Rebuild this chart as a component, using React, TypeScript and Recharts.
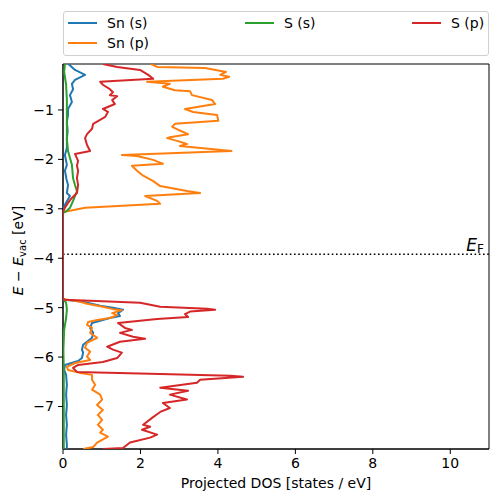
import React from "react";
import { ScatterChart, Scatter, XAxis, YAxis, ReferenceLine, ReferenceArea, Label } from "recharts";

const FONT = "'DejaVu Sans', sans-serif";

// [E - E_vac (eV), projected DOS (states/eV)]
const snS: [number, number][] = [
  [-0.07, 0.14], [-0.19, 0.31], [-0.29, 0.57], [-0.39, 0.31], [-0.47, 0.23], [-0.58, 0.26],
  [-0.7, 0.18], [-0.84, 0.23], [-0.98, 0.13], [-1.1, 0.13], [-1.24, 0.1], [-1.42, 0.12],
  [-1.59, 0.1], [-1.77, 0.1], [-1.91, 0.05], [-2.11, 0.1], [-2.23, 0.05], [-2.4, 0.09],
  [-2.52, 0.13], [-2.68, 0.1], [-2.74, 0.18], [-2.92, 0.05], [-3.04, 0],
  [-4.82, 0], [-4.84, 0.05], [-4.88, 0.52], [-4.96, 0.96], [-5.0, 1.29], [-5.04, 1.55],
  [-5.11, 1.42], [-5.17, 1.47], [-5.21, 1.21], [-5.31, 0.75], [-5.41, 0.7], [-5.51, 0.78],
  [-5.61, 0.75], [-5.75, 0.52], [-5.85, 0.49], [-5.91, 0.52], [-6.02, 0.49], [-6.08, 0.39],
  [-6.16, 0.05], [-6.26, 0.03], [-6.36, 0.08], [-6.56, 0.1], [-6.76, 0.08], [-6.97, 0.1],
  [-7.17, 0.08], [-7.37, 0.1], [-7.57, 0.08], [-7.77, 0.1], [-7.86, 0.1],
];

const snP: [number, number][] = [
  [-0.07, 2.27], [-0.13, 2.43], [-0.15, 3.67], [-0.23, 4.21], [-0.29, 4.06], [-0.33, 4.29],
  [-0.37, 4.13], [-0.43, 2.17], [-0.47, 2.76], [-0.53, 2.58], [-0.6, 2.89], [-0.62, 3.28],
  [-0.7, 3.33], [-0.8, 3.85], [-0.88, 3.93], [-0.98, 3.15], [-1.04, 3.36], [-1.1, 3.98],
  [-1.22, 4.01], [-1.28, 2.89], [-1.34, 2.82], [-1.4, 2.97], [-1.49, 3.23], [-1.55, 2.76],
  [-1.57, 2.69], [-1.63, 2.97], [-1.69, 3.2], [-1.73, 3.02], [-1.83, 4.35], [-1.91, 1.52],
  [-1.93, 1.91], [-2.01, 2.33], [-2.09, 2.58], [-2.13, 1.78], [-2.23, 1.91], [-2.33, 2.07],
  [-2.44, 2.33], [-2.54, 2.51], [-2.64, 3.2], [-2.68, 3.54], [-2.74, 2.12], [-2.84, 2.43],
  [-2.9, 2.51], [-2.98, 0.57], [-3.06, 0.05], [-3.08, 0],
  [-4.82, 0], [-4.83, 0.05], [-4.88, 0.44], [-4.92, 0.62], [-4.98, 1.03], [-5.03, 1.29],
  [-5.05, 1.52], [-5.11, 1.27], [-5.15, 1.4], [-5.21, 1.21], [-5.25, 0.88], [-5.29, 0.65],
  [-5.35, 0.62], [-5.41, 0.75], [-5.51, 0.7], [-5.61, 0.88], [-5.71, 0.62], [-5.81, 0.57],
  [-5.89, 0.7], [-5.99, 0.62], [-6.06, 0.7], [-6.12, 0.31], [-6.2, 0.1], [-6.26, 0.13],
  [-6.32, 0.44], [-6.36, 0.75], [-6.46, 0.75], [-6.56, 0.83], [-6.66, 0.75], [-6.76, 0.96],
  [-6.86, 1.01], [-6.97, 0.88], [-7.07, 1.03], [-7.17, 0.9], [-7.27, 1.01], [-7.37, 0.9],
  [-7.47, 1.03], [-7.53, 0.96], [-7.61, 1.16], [-7.73, 0.88], [-7.82, 0.78], [-7.86, 0.52],
];

const sS: [number, number][] = [
  [-0.07, 0.05], [-0.23, 0.03], [-0.49, 0.08], [-0.8, 0.1], [-1.2, 0.1], [-1.59, 0.1],
  [-1.83, 0.13], [-1.97, 0.18], [-2.11, 0.23], [-2.38, 0.26], [-2.52, 0.31], [-2.64, 0.36],
  [-2.84, 0.26], [-2.98, 0.18], [-3.04, 0.1], [-3.08, 0],
  [-4.82, 0], [-4.9, 0.08], [-5.04, 0.1], [-5.21, 0.08], [-5.45, 0.03], [-5.85, 0.01],
  [-6.26, 0.02], [-6.86, 0.02], [-7.86, 0.02],
];

const sP: [number, number][] = [
  [-0.07, 1.03], [-0.13, 1.4], [-0.19, 1.99], [-0.29, 2.2], [-0.37, 2.33], [-0.43, 0.96],
  [-0.49, 1.03], [-0.58, 1.21], [-0.64, 1.29], [-0.7, 1.21], [-0.72, 1.4], [-0.8, 1.27],
  [-0.88, 1.34], [-0.98, 1.03], [-1.04, 1.16], [-1.14, 1.09], [-1.28, 0.78], [-1.38, 0.75],
  [-1.49, 0.62], [-1.57, 0.57], [-1.71, 0.62], [-1.83, 0.7], [-1.89, 0.31], [-2.03, 0.39],
  [-2.13, 0.36], [-2.23, 0.39], [-2.38, 0.36], [-2.52, 0.39], [-2.68, 0.36], [-2.78, 0.23],
  [-2.88, 0.13], [-2.98, 0.05], [-3.06, 0],
  [-4.82, 0], [-4.84, 0.05], [-4.9, 1.99], [-4.98, 2.51], [-5.02, 3.72], [-5.04, 3.93],
  [-5.08, 3.28], [-5.13, 3.15], [-5.19, 3.23], [-5.23, 2.43], [-5.31, 1.42], [-5.41, 1.6],
  [-5.45, 1.78], [-5.51, 1.47], [-5.59, 1.81], [-5.63, 2.12], [-5.69, 1.47], [-5.79, 1.14],
  [-5.85, 1.29], [-5.91, 1.52], [-6.02, 1.4], [-6.1, 1.03], [-6.16, 0.39], [-6.22, 0.26],
  [-6.3, 0.36], [-6.34, 2.51], [-6.38, 4.32], [-6.4, 4.65], [-6.46, 3.54], [-6.52, 3.46],
  [-6.62, 2.51], [-6.68, 3.23], [-6.76, 2.76], [-6.86, 3.2], [-6.93, 2.58], [-7.03, 2.76],
  [-7.11, 2.51], [-7.23, 2.3], [-7.37, 2.07], [-7.41, 2.25], [-7.47, 2.04], [-7.57, 2.43],
  [-7.63, 2.25], [-7.73, 1.73], [-7.84, 1.55], [-7.86, 1.03],
];

const fermiLevel = -3.92;
const energyRange: [number, number] = [-7.86, -0.07];
const dosRange: [number, number] = [0, 11];
const energyTicks = [-7, -6, -5, -4, -3, -2, -1];
const dosTicks = [0, 2, 4, 6, 8, 10];

const series = [
  { name: "Sn (s)", color: "#1f77b4", data: snS },
  { name: "Sn (p)", color: "#ff7f0e", data: snP },
  { name: "S (s)", color: "#2ca02c", data: sS },
  { name: "S (p)", color: "#d62728", data: sP },
];

// matplotlib ncol=3 fills column by column
const legendCols = [["Sn (s)", "Sn (p)"], ["S (s)"], ["S (p)"]];

const toPoints = (d: [number, number][]) => d.map(([e, dos]) => ({ e, dos }));
const fmt = (v: number) => String(v).replace("-", "\u2212");

function LegendBox() {
  const colLeft = [4, 181, 348];
  return (
    <div
      style={{
        position: "absolute",
        left: 63,
        top: 11,
        width: 424,
        height: 43,
        border: "1px solid #d0d0d0",
        borderRadius: 3,
        background: "rgba(255,255,255,0.8)",
        fontFamily: FONT,
        fontSize: 14,
        color: "#000",
      }}
    >
      {legendCols.map((col, ci) =>
        col.map((name, ri) => {
          const s = series.find((x) => x.name === name)!;
          return (
            <div
              key={name}
              style={{ position: "absolute", left: colLeft[ci], top: ri * 20 + 1, height: 20, display: "flex", alignItems: "center" }}
            >
              <div style={{ width: 29, height: 2, background: s.color, marginRight: 10 }} />
              <span style={{ whiteSpace: "nowrap" }}>{name}</span>
            </div>
          );
        })
      )}
    </div>
  );
}

export default function App() {
  return (
    <div style={{ position: "absolute", left: 0, top: 0, width: 498, height: 502, background: "#fff" }}>
      <ScatterChart width={498} height={502} margin={{ top: 64, right: 9, bottom: 13, left: 0 }}>
        <XAxis
          type="number"
          dataKey="dos"
          domain={dosRange}
          ticks={dosTicks}
          allowDataOverflow
          height={40}
          stroke="#000"
          tickSize={5}
          tickMargin={4}
          tick={{ fill: "#000", fontSize: 14, fontFamily: FONT }}
          tickFormatter={fmt}
        >
          <Label
            content={(p: any) => {
              const vb = p.viewBox;
              return (
                <text x={vb.x + vb.width / 2} y={vb.y + 39} textAnchor="middle" fontSize={14} fontFamily={FONT} fill="#000">
                  Projected DOS [states / eV]
                </text>
              );
            }}
          />
        </XAxis>
        <YAxis
          type="number"
          dataKey="e"
          domain={energyRange}
          ticks={energyTicks}
          allowDataOverflow
          width={63}
          stroke="#000"
          tickSize={5}
          tickMargin={4}
          tick={{ fill: "#000", fontSize: 14, fontFamily: FONT }}
          tickFormatter={fmt}
        >
          <Label
            content={(p: any) => {
              const vb = p.viewBox;
              const cy = vb.y + vb.height / 2 - 6;
              const cx = 23;
              return (
                <text
                  x={cx}
                  y={cy}
                  transform={`rotate(-90 ${cx} ${cy})`}
                  textAnchor="middle"
                  fontSize={14}
                  fontFamily={FONT}
                  fill="#000"
                >
                  <tspan fontStyle="italic">E</tspan>
                  <tspan> {"\u2212"} </tspan>
                  <tspan fontStyle="italic">E</tspan>
                  <tspan fontSize={10} dy={3}>vac</tspan>
                  <tspan dy={-3}> [eV]</tspan>
                </text>
              );
            }}
          />
        </YAxis>
        <ReferenceArea
          x1={dosRange[0]}
          x2={dosRange[1]}
          y1={energyRange[0]}
          y2={energyRange[1]}
          fill="none"
          fillOpacity={0}
          stroke="#000"
          strokeWidth={1}
        />
        {series.map((s) => (
          <Scatter
            key={s.name}
            name={s.name}
            data={toPoints(s.data)}
            fill={s.color}
            line={{ stroke: s.color, strokeWidth: 2, strokeLinejoin: "round" }}
            lineType="joint"
            shape={() => <g />}
            isAnimationActive={false}
          />
        ))}
        <ReferenceLine
          y={fermiLevel}
          stroke="#000"
          strokeWidth={1.6}
          strokeDasharray="1.6 2.6"
          label={(p: any) => {
            const vb = p.viewBox;
            return (
              <text x={vb.x + vb.width - 5} y={vb.y - 3} textAnchor="end" fontFamily={FONT} fill="#000">
                <tspan fontSize={17} fontStyle="italic">E</tspan>
                <tspan fontSize={12} dy={2}>F</tspan>
              </text>
            );
          }}
        />
      </ScatterChart>
      <LegendBox />
    </div>
  );
}
